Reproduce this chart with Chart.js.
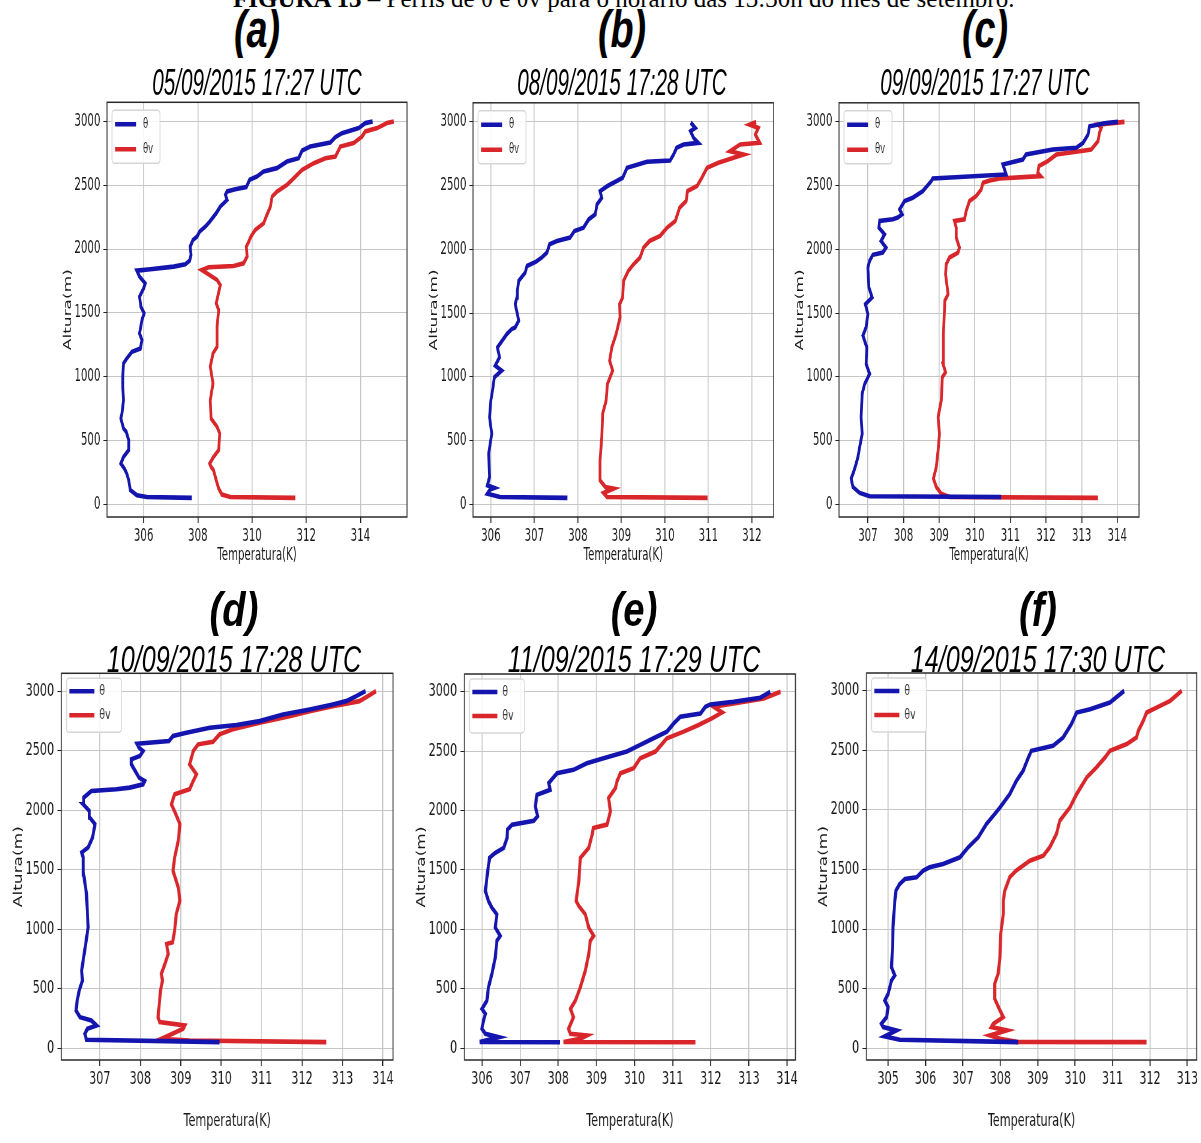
<!DOCTYPE html>
<html>
<head>
<meta charset="utf-8">
<script src="https://cdn.jsdelivr.net/npm/chart.js@4.4.1/dist/chart.umd.min.js"></script>
<style>
  html, body { margin: 0; padding: 0; background: #fff; }
  body { position: relative; width: 1201px; height: 1143px; overflow: hidden; }
  canvas { position: absolute; transform-origin: 0 0; }
  .txt { position: absolute; white-space: nowrap; color: #000; transform-origin: 50% 50%; }
</style>
</head>
<body>
<div id="caption" class="txt" style="left:233px; top:-13.9px; font: 25px/1 'Liberation Serif', 'Times New Roman', serif; transform-origin: 0 0;"><b>FIGURA 13</b> – Perfis de θ e θv para o horário das 13:30h do mês de setembro.</div>
<script>
// profiles: [temperature (K), height (m)]
const thetaA = [[307.78,50],[306.12,57],[305.75,71],[305.51,110],[305.45,188],[305.38,240],[305.29,280],[305.16,319],[305.26,371],[305.45,424],[305.45,502],[305.36,568],[305.26,593],[305.16,672],[305.2,711],[305.26,816],[305.23,920],[305.23,999],[305.26,1104],[305.38,1143],[305.57,1195],[305.88,1221],[305.94,1287],[305.85,1339],[305.94,1444],[306.02,1496],[305.9,1548],[305.85,1627],[306.0,1692],[306.06,1731],[305.85,1784],[305.75,1831],[306.25,1841],[307.11,1862],[307.54,1881],[307.7,1909],[307.75,1954],[307.72,2019],[307.82,2071],[307.97,2098],[308.07,2137],[308.28,2176],[308.44,2215],[308.68,2281],[308.83,2333],[309.08,2385],[309.02,2425],[309.08,2451],[309.38,2469],[309.79,2485],[309.91,2542],[310.18,2568],[310.43,2608],[310.92,2634],[311.29,2686],[311.72,2712],[311.85,2772],[312.15,2803],[312.89,2835],[313.08,2877],[313.32,2908],[313.94,2948],[314.18,2987],[314.45,3000]];
const thetavA = [[311.6,50],[309.2,57],[308.89,76],[308.77,123],[308.68,188],[308.58,267],[308.49,293],[308.44,319],[308.58,371],[308.77,424],[308.81,554],[308.71,607],[308.49,672],[308.46,816],[308.56,947],[308.46,1078],[308.56,1182],[308.71,1234],[308.71,1391],[308.77,1522],[308.68,1575],[308.83,1718],[308.71,1758],[308.34,1810],[308.15,1836],[308.4,1857],[309.32,1867],[309.69,1888],[309.82,1941],[309.79,2019],[309.88,2058],[309.96,2098],[310.12,2150],[310.43,2202],[310.55,2268],[310.68,2333],[310.74,2411],[310.92,2451],[311.29,2503],[311.54,2555],[311.85,2621],[312.28,2673],[312.71,2712],[313.08,2725],[313.26,2803],[313.75,2830],[314.06,2882],[314.18,2921],[314.62,2948],[314.98,2987],[315.23,3000]];

const thetaB = [[307.76,50],[306.21,57],[305.92,83],[305.98,115],[306.08,128],[305.92,149],[305.97,214],[305.95,397],[306.02,553],[305.97,683],[306.0,814],[306.05,918],[306.08,997],[306.25,1049],[306.1,1088],[306.2,1153],[306.15,1231],[306.37,1336],[306.48,1375],[306.56,1388],[306.64,1440],[306.61,1492],[306.56,1570],[306.6,1623],[306.61,1675],[306.64,1753],[306.79,1818],[306.83,1870],[307.04,1904],[307.17,1936],[307.29,1975],[307.35,2040],[307.52,2066],[307.82,2092],[307.92,2144],[308.13,2170],[308.25,2236],[308.4,2275],[308.44,2353],[308.55,2405],[308.51,2457],[308.68,2497],[308.82,2523],[309.03,2562],[309.13,2640],[309.59,2687],[310.12,2697],[310.2,2744],[310.27,2797],[310.43,2823],[310.77,2836],[310.66,2875],[310.59,2927],[310.7,2953],[310.62,2984],[310.64,3000]];
const thetavB = [[310.98,50],[308.67,57],[308.59,89],[308.82,123],[308.63,136],[308.51,188],[308.51,344],[308.55,527],[308.57,710],[308.65,814],[308.68,944],[308.8,1049],[308.73,1127],[308.78,1231],[308.88,1336],[308.97,1466],[308.96,1570],[309.03,1623],[309.05,1753],[309.16,1831],[309.28,1883],[309.43,1936],[309.51,2014],[309.65,2066],[309.89,2105],[310.05,2170],[310.24,2223],[310.34,2327],[310.49,2379],[310.52,2457],[310.74,2497],[310.85,2562],[310.97,2640],[311.23,2679],[311.58,2718],[311.81,2744],[311.5,2770],[311.73,2823],[312.18,2836],[312.08,2901],[312.15,2953],[311.95,2979],[312.1,3000]];

const thetaC = [[310.74,57],[307.05,63],[306.77,89],[306.58,136],[306.53,201],[306.6,253],[306.67,318],[306.72,370],[306.77,449],[306.84,553],[306.81,683],[306.84,866],[306.91,944],[307.05,1023],[306.95,1101],[306.97,1231],[306.86,1323],[306.95,1388],[307.0,1492],[306.93,1570],[307.12,1623],[307.03,1701],[307.0,1857],[307.05,1910],[307.14,1957],[307.42,1975],[307.51,2014],[307.37,2066],[307.47,2118],[307.31,2170],[307.33,2223],[307.7,2236],[307.84,2249],[307.96,2275],[307.89,2314],[308.03,2379],[308.26,2405],[308.54,2457],[308.78,2536],[308.82,2556],[310.88,2588],[310.79,2666],[311.35,2705],[311.44,2744],[312.19,2783],[312.85,2797],[313.04,2836],[313.18,2901],[313.22,2966],[313.69,2992],[314.02,3000]];
const thetavC = [[313.46,50],[309.29,57],[309.06,83],[308.92,136],[308.84,201],[308.92,292],[308.97,423],[309.01,553],[308.97,683],[309.06,814],[309.09,997],[309.18,1036],[309.11,1101],[309.12,1336],[309.16,1597],[309.25,1649],[309.18,1805],[309.2,1883],[309.29,1936],[309.53,1975],[309.57,2014],[309.48,2092],[309.48,2170],[309.43,2223],[309.71,2236],[309.76,2301],[309.85,2379],[310.04,2418],[310.18,2470],[310.23,2523],[310.42,2541],[310.7,2556],[311.85,2575],[311.77,2601],[311.8,2653],[312.05,2692],[312.29,2744],[312.94,2770],[313.27,2783],[313.46,2849],[313.5,2914],[313.55,2953],[313.46,2979],[314.2,3000]];

const thetaD = [[309.96,50],[306.67,70],[306.63,120],[306.69,162],[306.92,190],[306.79,232],[306.51,260],[306.41,316],[306.44,400],[306.49,484],[306.57,568],[306.55,651],[306.6,763],[306.65,875],[306.71,1015],[306.69,1155],[306.67,1295],[306.6,1462],[306.59,1602],[306.55,1644],[306.71,1686],[306.82,1770],[306.88,1882],[306.75,1938],[306.74,1994],[306.59,2049],[306.6,2105],[306.79,2161],[307.41,2175],[307.74,2189],[308.07,2217],[308.11,2245],[307.97,2273],[307.9,2315],[307.78,2385],[307.78,2427],[307.99,2455],[308.07,2497],[307.97,2525],[307.92,2558],[308.71,2581],[308.81,2623],[309.14,2651],[309.72,2693],[310.38,2715],[310.95,2748],[311.53,2804],[312.19,2846],[312.76,2888],[313.09,2916],[313.34,2958],[313.57,3000]];
const thetavD = [[312.6,50],[309.22,64],[308.52,78],[308.65,98],[309.06,162],[309.1,190],[308.48,218],[308.44,260],[308.47,372],[308.5,484],[308.55,568],[308.52,624],[308.61,707],[308.69,791],[308.65,875],[308.8,889],[308.85,987],[308.89,1127],[308.98,1239],[308.94,1350],[308.81,1490],[308.85,1602],[308.94,1742],[308.98,1882],[308.88,1966],[308.77,2049],[308.85,2133],[309.22,2175],[309.31,2245],[309.39,2301],[309.22,2385],[309.31,2497],[309.43,2553],[309.8,2575],[309.96,2637],[310.29,2679],[310.95,2735],[311.69,2790],[312.19,2832],[312.76,2874],[313.42,2916],[313.63,2958],[313.83,3000]];

const thetaE = [[308.05,50],[305.94,52],[306.44,92],[306.09,120],[306.0,162],[306.04,232],[306.09,288],[306.0,330],[306.13,400],[306.17,512],[306.26,624],[306.35,763],[306.39,903],[306.48,945],[306.35,1015],[306.39,1127],[306.26,1183],[306.17,1239],[306.09,1323],[306.15,1490],[306.2,1602],[306.35,1644],[306.57,1686],[306.66,1770],[306.67,1840],[306.79,1882],[307.36,1915],[307.46,1952],[307.4,2035],[307.44,2133],[307.79,2175],[307.75,2231],[307.97,2315],[308.4,2343],[308.75,2399],[309.19,2441],[309.8,2497],[310.15,2553],[310.5,2609],[310.85,2665],[311.03,2734],[311.2,2790],[311.73,2818],[311.86,2874],[311.99,2894],[312.6,2916],[313.3,2950],[313.56,3000]];
const thetavE = [[311.6,50],[308.14,52],[308.58,78],[308.75,106],[308.32,120],[308.27,162],[308.4,260],[308.32,330],[308.45,400],[308.58,512],[308.71,651],[308.8,791],[308.84,903],[308.93,945],[308.8,1015],[308.71,1127],[308.54,1197],[308.47,1239],[308.54,1406],[308.58,1602],[308.8,1686],[308.89,1798],[308.92,1854],[309.28,1882],[309.37,1994],[309.32,2105],[309.5,2189],[309.54,2245],[309.63,2315],[309.98,2357],[310.15,2441],[310.55,2497],[310.85,2609],[311.29,2665],[311.68,2721],[312.03,2776],[312.3,2827],[312.08,2874],[312.6,2902],[313.39,2944],[313.83,3000]];

const thetaF = [[308.48,50],[305.31,70],[304.91,98],[305.22,148],[304.87,176],[304.82,204],[304.96,260],[305.0,344],[304.91,400],[305.0,456],[305.09,568],[305.18,610],[305.09,679],[305.12,847],[305.13,1015],[305.18,1239],[305.21,1323],[305.31,1378],[305.45,1420],[305.76,1434],[305.94,1490],[306.11,1518],[306.47,1546],[306.92,1602],[307.14,1686],[307.41,1770],[307.63,1882],[307.85,1966],[307.99,2021],[308.25,2133],[308.43,2245],[308.61,2329],[308.75,2441],[308.83,2497],[309.41,2539],[309.68,2609],[309.9,2721],[310.04,2818],[310.4,2846],[310.93,2902],[311.31,3000]];
const thetavF = [[311.91,50],[308.43,52],[307.99,78],[307.72,106],[308.17,148],[307.76,176],[307.81,204],[308.08,260],[307.99,316],[307.85,414],[307.85,540],[307.94,624],[307.99,763],[308.01,959],[308.08,1127],[308.08,1239],[308.12,1323],[308.25,1434],[308.42,1490],[308.79,1574],[309.15,1616],[309.32,1686],[309.5,1798],[309.59,1910],[309.86,2021],[310.04,2133],[310.31,2273],[310.57,2357],[310.8,2441],[310.93,2497],[311.38,2553],[311.64,2609],[311.69,2665],[311.82,2748],[311.91,2818],[312.27,2874],[312.54,2916],[312.85,3000]];

const heightTicks = [0, 500, 1000, 1500, 2000, 2500, 3000];
const tempTicksA = [306, 308, 310, 312, 314];
const tempTicksB = [306, 307, 308, 309, 310, 311, 312];
const tempTicksC = [307, 308, 309, 310, 311, 312, 313, 314];
const tempTicksD = [307, 308, 309, 310, 311, 312, 313, 314];
const tempTicksE = [306, 307, 308, 309, 310, 311, 312, 313, 314];
const tempTicksF = [305, 306, 307, 308, 309, 310, 311, 312, 313];

const panelLetters = ['(a)', '(b)', '(c)', '(d)', '(e)', '(f)'];
const panelDates = ['05/09/2015 17:27 UTC', '08/09/2015 17:28 UTC', '09/09/2015 17:27 UTC',
                    '10/09/2015 17:28 UTC', '11/09/2015 17:29 UTC', '14/09/2015 17:30 UTC'];
const seriesNames = ['θ', 'θv'];

const BLUE = '#1414ae';
const RED = '#d8262a';

// row layout (final pixels); the original figure is squeezed horizontally
const TOP = { sx: 0.6, titleGap: 39, letterBase: 47, letterSize: 51, letterSx: 0.74, dateBase: 95, dateSize: 37, dateSx: 0.56,
              legend: { box: [5, 8, 48, 53], rows: [22, 47], line: [8, 29], text: 36 } };
const BOT = { sx: 0.66, titleGap: 62, letterBase: 626, letterSize: 49, letterSx: 0.78, dateBase: 672, dateSize: 37, dateSx: 0.68,
              legend: { box: [5, 5, 55, 54], rows: [18, 42], line: [8, 33], text: 38 } };

const panels = [
  { theta: thetaA, thetav: thetavA, ticks: tempTicksA, xMin: 304.65, xMax: 315.72, area: [106.7, 102, 406.7, 516.7], row: TOP, cx: 257 },
  { theta: thetaB, thetav: thetavB, ticks: tempTicksB, xMin: 305.59, xMax: 312.5, area: [472.7, 102.5, 773.3, 516.7], row: TOP, cx: 622 },
  { theta: thetaC, thetav: thetavC, ticks: tempTicksC, xMin: 306.19, xMax: 314.61, area: [839.3, 102.5, 1139.3, 516.7], row: TOP, cx: 985 },
  { theta: thetaD, thetav: thetavD, ticks: tempTicksD, xMin: 306.05, xMax: 314.25, area: [61.7, 673.3, 393.3, 1060], row: BOT, cx: 234 },
  { theta: thetaE, thetav: thetavE, ticks: tempTicksE, xMin: 305.54, xMax: 314.22, area: [464, 674, 795, 1060], row: BOT, cx: 634 },
  { theta: thetaF, thetav: thetavF, ticks: tempTicksF, xMin: 304.42, xMax: 313.25, area: [866.7, 673, 1197, 1060], row: BOT, cx: 1038 }
];

const frame = {
  id: 'frame',
  afterDraw(chart) {
    const {ctx, chartArea: a} = chart;
    ctx.save();
    ctx.strokeStyle = '#2a2a2a';
    ctx.lineWidth = 1.5;
    ctx.strokeRect(a.left, a.top, a.right - a.left, a.bottom - a.top);
    ctx.restore();
  }
};

// matplotlib-like legend in the upper left corner of the axes
const boxLegend = {
  id: 'boxLegend',
  afterDraw(chart, args, o) {
    const {ctx, chartArea: a} = chart;
    const s = o.sx, L = o.layout;
    const bx = a.left + L.box[0] / s, by = a.top + L.box[1];
    const bw = L.box[2] / s, bh = L.box[3];
    ctx.save();
    ctx.beginPath();
    if (ctx.roundRect) ctx.roundRect(bx, by, bw, bh, 4); else ctx.rect(bx, by, bw, bh);
    ctx.fillStyle = 'rgba(255,255,255,0.85)';
    ctx.fill();
    ctx.strokeStyle = '#d6d6d6';
    ctx.lineWidth = 1.5;
    ctx.stroke();
    chart.data.datasets.forEach((ds, i) => {
      const y = a.top + L.rows[i];
      ctx.beginPath();
      ctx.moveTo(a.left + L.line[0] / s, y);
      ctx.lineTo(a.left + L.line[1] / s, y);
      ctx.strokeStyle = ds.borderColor;
      ctx.lineWidth = 4.5;
      ctx.stroke();
      ctx.fillStyle = '#333';
      ctx.font = '14px "DejaVu Sans", sans-serif';
      ctx.textBaseline = 'middle';
      ctx.fillText(ds.label, a.left + L.text / s, y);
    });
    ctx.restore();
  }
};

function addText(txt, cx, baseline, size, sx, weight) {
  const d = document.createElement('div');
  d.className = 'txt';
  d.textContent = txt;
  d.style.font = `italic ${weight} ${size}px/1 "Liberation Sans", Arial, sans-serif`;
  d.style.top = (baseline - 0.8465 * size) + 'px';
  d.style.left = cx + 'px';
  d.style.transform = `translateX(-50%) scaleX(${sx})`;
  document.body.appendChild(d);
}

const tickFont = { family: 'DejaVu Sans', size: 17 };
const yAxisW = 90, xAxisH = 80;

panels.forEach((p, i) => {
  const r = p.row, s = r.sx;
  const [x0, y0, x1, y1] = p.area;
  const plotW = (x1 - x0) / s, plotH = y1 - y0;
  const W = Math.ceil(yAxisW + plotW + 30);
  const H = Math.ceil(10 + plotH + xAxisH);
  const padR = W - yAxisW - plotW, padT = H - plotH - xAxisH;

  const canvas = document.createElement('canvas');
  canvas.width = W;
  canvas.height = H;
  canvas.style.left = (x0 - yAxisW * s) + 'px';
  canvas.style.top = (y0 - padT) + 'px';
  canvas.style.transform = `scaleX(${s})`;
  document.body.appendChild(canvas);

  addText(panelLetters[i], p.cx, r.letterBase, r.letterSize, r.letterSx, 'bold');
  addText(panelDates[i], p.cx, r.dateBase, r.dateSize, r.dateSx, 'normal');

  const toPts = arr => arr.map(v => ({ x: v[0], y: v[1] }));

  new Chart(canvas, {
    type: 'scatter',
    data: {
      datasets: [
        { label: seriesNames[0], data: toPts(p.theta), borderColor: BLUE, backgroundColor: BLUE, showLine: true, pointRadius: 0, borderWidth: 4.6, tension: 0 },
        { label: seriesNames[1], data: toPts(p.thetav), borderColor: RED, backgroundColor: RED, showLine: true, pointRadius: 0, borderWidth: 4.6, tension: 0 }
      ]
    },
    options: {
      responsive: false,
      animation: false,
      devicePixelRatio: 1,
      layout: { padding: { left: 0, top: padT, right: padR, bottom: 0 } },
      plugins: {
        legend: { display: false },
        tooltip: { enabled: false },
        boxLegend: { sx: s, layout: r.legend }
      },
      scales: {
        x: {
          type: 'linear',
          min: p.xMin,
          max: p.xMax,
          afterBuildTicks: sc => { sc.ticks = p.ticks.map(v => ({ value: v })); },
          afterFit: sc => { sc.height = xAxisH; sc.paddingLeft = 0; sc.paddingRight = 0; },
          grid: { color: '#c6c6c6', lineWidth: 1.6, tickLength: 6, tickColor: '#222', tickWidth: 1.6 },
          border: { display: false },
          ticks: { font: tickFont, color: '#1a1a1a', padding: 3, maxRotation: 0, autoSkip: false, callback: v => String(v) },
          title: { display: true, text: 'Temperatura(K)', font: { family: 'DejaVu Sans', size: 17 }, color: '#1a1a1a',
                   padding: { top: 0, bottom: xAxisH - 10.2 - r.titleGap } }
        },
        y: {
          type: 'linear',
          min: -100,
          max: 3150,
          afterBuildTicks: sc => { sc.ticks = heightTicks.map(v => ({ value: v })); },
          afterFit: sc => { sc.width = yAxisW; sc.paddingTop = 0; sc.paddingBottom = 0; },
          grid: { color: '#c6c6c6', lineWidth: 1, tickLength: 6, tickColor: '#222', tickWidth: 1 },
          border: { display: false },
          ticks: { font: tickFont, color: '#1a1a1a', padding: 5, autoSkip: false, callback: v => String(v) },
          title: { display: true, text: 'Altura(m)', font: { family: 'DejaVu Sans', size: 17 }, color: '#1a1a1a',
                   padding: { top: yAxisW - 64.5 - 10.2, bottom: 0 } }
        }
      }
    },
    plugins: [frame, boxLegend]
  });
});
</script>
</body>
</html>
